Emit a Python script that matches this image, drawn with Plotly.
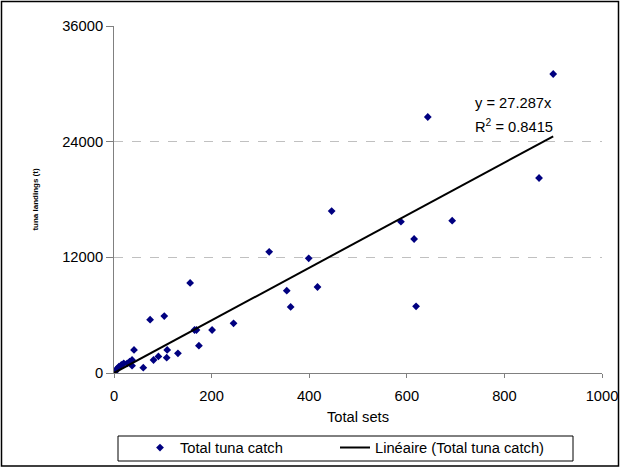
import plotly.graph_objects as go

# Data
total_sets = [1.5, 3, 5, 7, 10, 15, 20, 27, 32, 37, 37, 41, 60, 81, 91, 108, 109, 131,
              74, 103, 156, 165, 169, 201, 245, 174, 318, 354, 362, 399, 417, 446,
              588, 615, 619, 643, 693, 871, 900]
tuna_catch = [100, 200, 310, 490, 650, 830, 1000, 1000, 1170, 760, 1350, 2390, 550, 1350, 1720, 1590, 2390, 2040,
              5530, 5910, 9340, 4460, 4460, 4460, 5150, 2830, 12570, 8540, 6850, 11900, 8920, 16800,
              15700, 13900, 6920, 26560, 15800, 20230, 31020]
slope = 27.287
r_squared = 0.8415
y_ticks = [0, 12000, 24000, 36000]
y_ticktext = ["0", "12000", "24000", "36000"]
x_ticks = [0, 200, 400, 600, 800, 1000]

FONT = "Liberation Sans, Arial, sans-serif"
FS = 14.7
NAVY = "#000080"

# plot area in pixels: left 114, right 602, top 26, bottom 373
PW, PH = 488, 347


def px_x(p):
    return (p - 114) / PW


def px_y(p):
    return (373 - p) / PH


line_x = [0, max(total_sets)]
line_y = [slope * v for v in line_x]

fig = go.Figure()

fig.add_trace(go.Scatter(
    x=total_sets, y=tuna_catch, mode="markers", name="Total tuna catch",
    marker=dict(symbol="diamond", size=6, color=NAVY, line=dict(width=0)),
    legend="legend",
))
fig.add_trace(go.Scatter(
    x=line_x, y=line_y, mode="lines", name="Linéaire (Total tuna catch)",
    line=dict(color="black", width=2),
    legend="legend2",
))

# outer chart border and legend box
fig.add_shape(type="rect", xref="paper", yref="paper",
              x0=px_x(1.5), x1=px_x(618.5), y0=px_y(466), y1=px_y(1.5),
              line=dict(color="black", width=1.5), layer="below")
fig.add_shape(type="rect", xref="paper", yref="paper",
              x0=px_x(118), x1=px_x(573), y0=px_y(461), y1=px_y(436),
              line=dict(color="black", width=1), layer="below")

# trendline equation, two lines as in Excel
eq_font = dict(family=FONT, size=FS, color="black")
fig.add_annotation(x=px_x(473), y=px_y(103), xref="paper", yref="paper",
                   xanchor="left", yanchor="middle", showarrow=False,
                   text=f"y = {slope}x", font=eq_font)
fig.add_annotation(x=px_x(473), y=px_y(126), xref="paper", yref="paper",
                   xanchor="left", yanchor="middle", showarrow=False,
                   text=f"R<sup>2</sup> = {r_squared}", font=eq_font)

legend_style = dict(
    orientation="h", xanchor="left", y=px_y(448), yanchor="middle",
    bgcolor="rgba(0,0,0,0)", borderwidth=0,
    font=dict(family=FONT, size=FS, color="black"),
)

fig.update_layout(
    width=620, height=468,
    margin=dict(l=114, r=18, t=26, b=95, autoexpand=False),
    paper_bgcolor="white", plot_bgcolor="white",
    font=dict(family=FONT, size=FS, color="black"),
    showlegend=True,
    legend=dict(x=px_x(140), **legend_style),
    legend2=dict(x=px_x(335), **legend_style),
    xaxis=dict(
        range=[0, 1000], tickvals=x_ticks, showgrid=False, zeroline=False,
        showline=True, linecolor="#808080", linewidth=1, automargin=False,
        ticks="outside", ticklen=4, tickcolor="#808080", ticklabelstandoff=5,
        tickfont=dict(family=FONT, size=FS),
        title=dict(text="Total sets", font=dict(family=FONT, size=FS), standoff=9),
    ),
    yaxis=dict(
        range=[0, 36000], tickvals=y_ticks, ticktext=y_ticktext,
        showgrid=True, gridcolor="#c0c0c0",
        griddash="dash", gridwidth=1, zeroline=False,
        showline=True, linecolor="#808080", linewidth=1, automargin=False,
        ticks="outside", ticklen=7, tickcolor="#808080",
        tickfont=dict(family=FONT, size=FS),
        title=dict(text="<b>tuna landings (t)</b>", font=dict(family=FONT, size=8), standoff=22),
    ),
)

# drop the browser's default 8px body margin so the chart sits at the page corner
fig.write_html("out.html", config={"displayModeBar": False},
               post_script="document.body.style.margin='0';")
